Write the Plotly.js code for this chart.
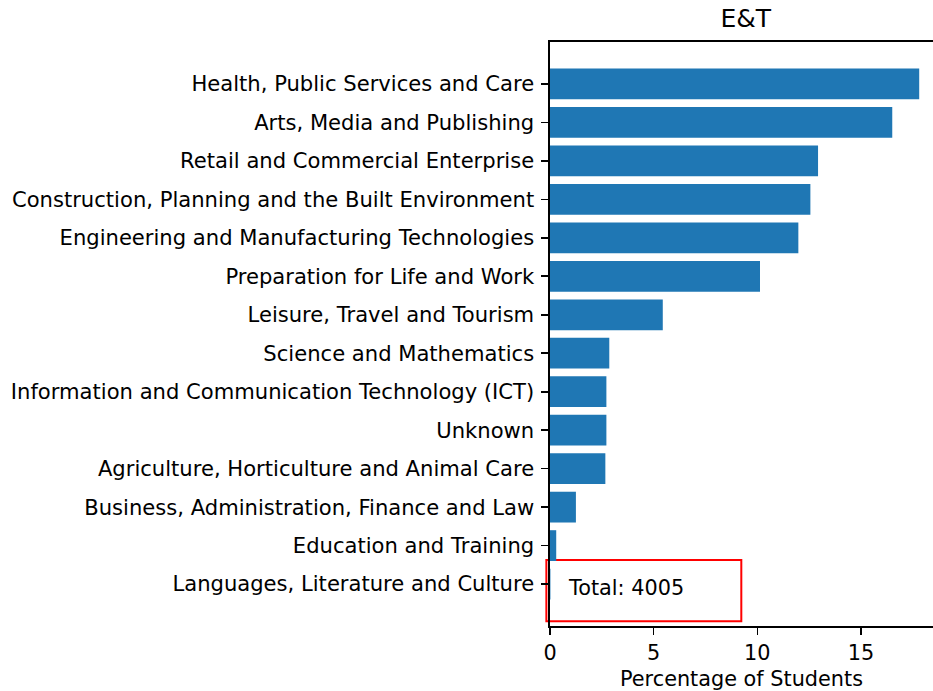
<!DOCTYPE html>
<html>
<head>
<meta charset="utf-8">
<script src="https://cdn.plot.ly/plotly-3.0.1.min.js"></script>
<style>html,body{margin:0;padding:0;background:#fff;overflow:hidden}</style>
</head>
<body>
<div id="chart" style="width:933px;height:691px"></div>
<script>
// Categories, top to bottom
const categories = [
  "Health, Public Services and Care",
  "Arts, Media and Publishing",
  "Retail and Commercial Enterprise",
  "Construction, Planning and the Built Environment",
  "Engineering and Manufacturing Technologies",
  "Preparation for Life and Work",
  "Leisure, Travel and Tourism",
  "Science and Mathematics",
  "Information and Communication Technology (ICT)",
  "Unknown",
  "Agriculture, Horticulture and Animal Care",
  "Business, Administration, Finance and Law",
  "Education and Training",
  "Languages, Literature and Culture"
];
// Percentage of students
const percentages = [17.81, 16.51, 12.93, 12.56, 11.98, 10.13, 5.44, 2.86, 2.72, 2.72, 2.67, 1.25, 0.30, 0.02];
const xTickVals = [0, 5, 10, 15];
const chartTitle = "E&T";
const xLabel = "Percentage of Students";
const totalText = "Total: 4005";

const font = "DejaVu Sans, sans-serif";
const n = categories.length;

const trace = {
  type: "bar",
  orientation: "h",
  x: percentages,
  y: categories,
  width: 0.8,
  marker: {color: "#1f77b4", line: {width: 0}},
  hoverinfo: "none"
};

const layout = {
  width: 933,
  height: 691,
  margin: {l: 550, r: 0, t: 42, b: 65, pad: 0},
  paper_bgcolor: "#ffffff",
  plot_bgcolor: "#ffffff",
  showlegend: false,
  font: {family: font, size: 21.1, color: "#000000"},
  title: {
    text: chartTitle,
    font: {family: font, size: 25, color: "#000000"},
    xref: "paper", x: 0.511, xanchor: "center",
    yref: "container", y: 0.973, yanchor: "middle"
  },
  xaxis: {
    range: [0, 18.475],
    tickvals: xTickVals,
    ticktext: xTickVals.map(String),
    ticks: "outside", ticklen: 7, tickwidth: 1.6, tickcolor: "#000",
    showline: true, linecolor: "#000", linewidth: 1.6, mirror: true,
    showgrid: false, zeroline: false,
    tickfont: {family: font, size: 20.8, color: "#000"},
    title: {text: xLabel, font: {family: font, size: 20.8, color: "#000"}, standoff: 10},
    fixedrange: true
  },
  yaxis: {
    type: "category",
    categoryorder: "array",
    categoryarray: categories,
    range: [n - 1 + 1.09, -1.09],
    ticks: "outside", ticklen: 7, tickwidth: 1.6, tickcolor: "#000",
    ticklabelstandoff: 3,
    showline: true, linecolor: "#000", linewidth: 1.6, mirror: false,
    showgrid: false, zeroline: false,
    tickfont: {family: font, size: 21.1, color: "#000"},
    fixedrange: true
  },
  shapes: [{
    type: "rect", xref: "paper", yref: "paper", layer: "below",
    x0: -0.0095, x1: 0.4995, y0: 0.008, y1: 0.113,
    line: {color: "#ff0000", width: 2}, fillcolor: "#ffffff"
  }],
  annotations: [{
    text: totalText, xref: "paper", yref: "paper",
    x: 0.042, y: 0.065, xanchor: "left", yanchor: "middle",
    showarrow: false, font: {family: font, size: 20.8, color: "#000"}
  }]
};

Plotly.newPlot("chart", [trace], layout, {staticPlot: true, displayModeBar: false});
</script>
</body>
</html>
